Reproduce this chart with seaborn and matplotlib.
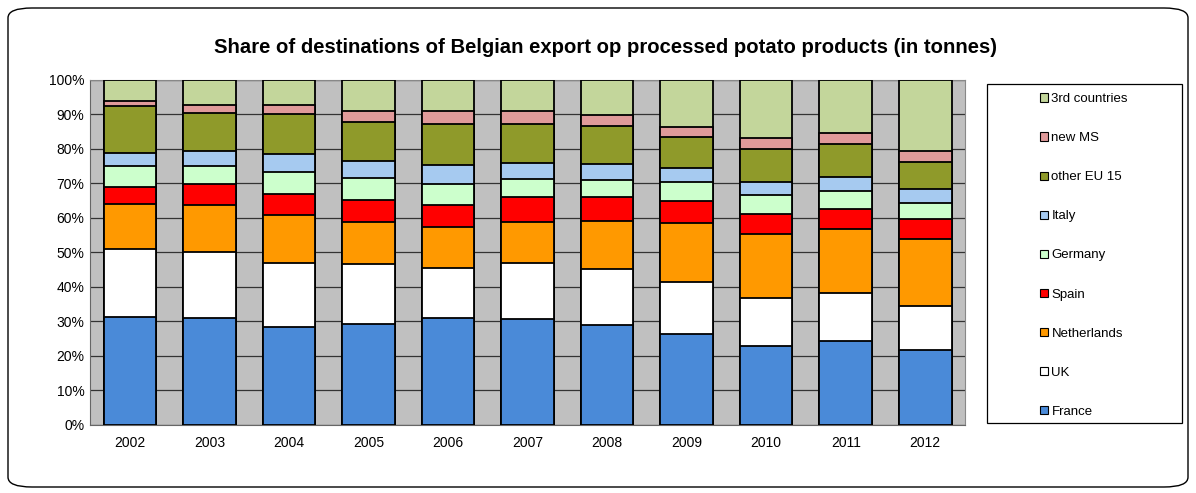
import numpy as np
import pandas as pd
import matplotlib
matplotlib.use("Agg")
import matplotlib.pyplot as plt
import seaborn as sns
from matplotlib.patches import FancyBboxPatch, Rectangle, Patch
from matplotlib.ticker import FixedLocator

years = ["2002", "2003", "2004", "2005", "2006", "2007", "2008", "2009", "2010", "2011", "2012"]

# shares in % per destination (bottom to top of the stack)
france = [31.2, 30.9, 28.3, 29.2, 30.9, 30.6, 29.0, 26.4, 23.0, 24.2, 21.7]
uk = [19.8, 19.3, 18.6, 17.4, 14.5, 16.3, 16.2, 15.0, 13.9, 14.0, 12.9]
netherlands = [13.0, 13.6, 14.0, 12.2, 11.9, 11.9, 13.9, 17.1, 18.4, 18.5, 19.3]
spain = [5.1, 6.0, 6.0, 6.4, 6.5, 7.4, 7.1, 6.5, 5.9, 5.8, 5.7]
germany = [5.8, 5.1, 6.3, 6.3, 6.0, 5.1, 4.8, 5.5, 5.3, 5.4, 4.7]
italy = [4.0, 4.5, 5.4, 5.1, 5.4, 4.7, 4.7, 4.1, 4.0, 3.9, 4.0]
other_eu15 = [13.6, 10.9, 11.5, 11.3, 12.0, 11.2, 11.0, 8.8, 9.4, 9.6, 7.8]
new_ms = [1.4, 2.5, 2.7, 3.2, 3.8, 3.9, 3.2, 2.9, 3.2, 3.3, 3.3]
third_countries = [6.1, 7.2, 7.2, 8.9, 9.0, 8.9, 10.1, 13.7, 16.9, 15.3, 20.6]

destinations = ["France", "UK", "Netherlands", "Spain", "Germany", "Italy",
                "other EU 15", "new MS", "3rd countries"]
series = [france, uk, netherlands, spain, germany, italy, other_eu15, new_ms, third_countries]
colors = ["#4a8ad8", "#ffffff", "#ff9900", "#ff0000", "#ccffcc", "#a6caf0",
          "#8f9a2a", "#e09a9a", "#c3d69b"]

# cumulative tops, drawn from the top layer down so lower layers overlay
vals = np.array(series)
cum = np.cumsum(vals, axis=0)
cum = cum / cum[-1] * 100

rows = []
for i, name in enumerate(destinations):
    for j, y in enumerate(years):
        rows.append({"year": y, "destination": name, "top": cum[i, j]})
df = pd.DataFrame(rows)

sns.set_style("white")
plt.rcParams["font.family"] = ["Liberation Sans", "DejaVu Sans"]
plt.rcParams["text.color"] = "black"
plt.rcParams["xtick.color"] = "black"
plt.rcParams["ytick.color"] = "black"

fig = plt.figure(figsize=(11.96, 4.93), dpi=100)
ax = fig.add_axes([0.0753, 0.138, 0.7316, 0.700])

for i in range(len(destinations) - 1, -1, -1):
    sub = df[df["destination"] == destinations[i]]
    sns.barplot(data=sub, x="year", y="top", order=years, color=colors[i],
                width=0.66, edgecolor="black", linewidth=1.3, saturation=1,
                ax=ax, zorder=3)

ax.set_facecolor("#c0c0c0")
ax.set_ylim(0, 100)
ax.set_xlim(-0.5, len(years) - 0.5)
ax.set_yticks(np.arange(0, 101, 10))
ax.set_yticklabels([f"{t}%" for t in range(0, 101, 10)], fontsize=10)
ax.yaxis.grid(True, color="#333333", linewidth=0.9, zorder=0)
ax.set_axisbelow(True)
ax.set_xlabel("")
ax.set_ylabel("")
ax.tick_params(axis="x", which="major", length=0, labelsize=10, pad=8)
ax.tick_params(axis="y", length=0, pad=4)
ax.xaxis.set_minor_locator(FixedLocator(np.arange(0.5, len(years) - 0.5, 1)))
ax.tick_params(axis="x", which="minor", length=4, direction="out", color="#555555")
for side in ["top", "right"]:
    ax.spines[side].set_color("#888888")
    ax.spines[side].set_linewidth(0.8)
for side in ["left", "bottom"]:
    ax.spines[side].set_color("#666666")
    ax.spines[side].set_linewidth(0.8)

fig.text(0.506, 0.903, "Share of destinations of Belgian export op processed potato products (in tonnes)",
         ha="center", va="center", fontsize=14.6, fontweight="bold", color="black",
         family=["Liberation Sans Narrow", "Liberation Sans", "DejaVu Sans"])

# legend frame and entries
fig.patches.append(Rectangle((987 / 1196, 1 - 423 / 493), (1182 - 987) / 1196, (423 - 84) / 493,
                             transform=fig.transFigure, fill=False, edgecolor="black", linewidth=0.9))
handles = [Patch(facecolor=colors[i], edgecolor="black", linewidth=0.8)
           for i in range(len(destinations) - 1, -1, -1)]
labels = destinations[::-1]
fig.legend(handles, labels, loc="upper left", bbox_to_anchor=(1035 / 1196, 1 - 88 / 493),
           frameon=False, fontsize=9.5, handlelength=0.6, handleheight=0.6,
           handletextpad=0.25, labelspacing=2.05, borderaxespad=0)

# rounded outer border
fig.patches.append(FancyBboxPatch((8 / 1196, 6 / 493), 1180 / 1196, 479 / 493,
                                  boxstyle="round,pad=0,rounding_size=0.02",
                                  transform=fig.transFigure, fill=False,
                                  edgecolor="black", linewidth=1.0))

fig.savefig("out.png", dpi=100)
